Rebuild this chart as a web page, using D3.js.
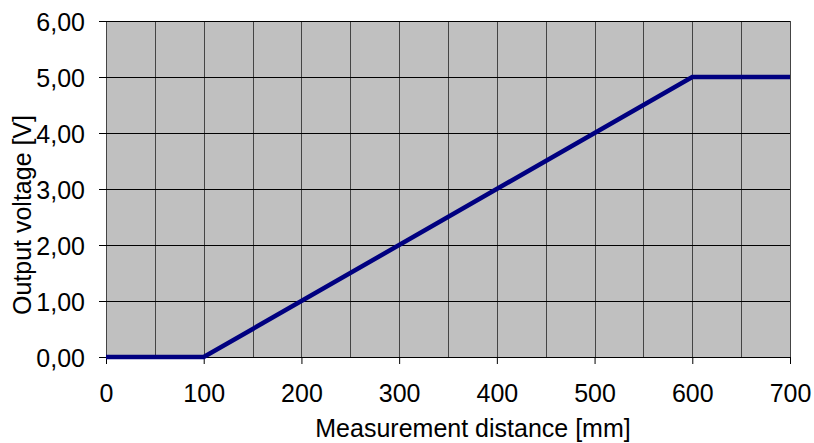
<!DOCTYPE html>
<html>
<head>
<meta charset="utf-8">
<script src="https://cdn.jsdelivr.net/npm/d3@7"></script>
<style>
  body { margin: 0; background: #fff; }
  svg text { font-family: "Liberation Sans", Arial, sans-serif; fill: #000; }
</style>
</head>
<body>
<div id="chart"></div>
<script>
// curve points
var distance = [0, 100, 600, 700];
var voltage = [0, 0, 5, 5];
var xTicks = [0, 100, 200, 300, 400, 500, 600, 700];
var xGrid = [50, 100, 150, 200, 250, 300, 350, 400, 450, 500, 550, 600, 650, 700];
var yTicks = [0, 1, 2, 3, 4, 5, 6];

var width = 814,
    height = 443;
var margin = {top: 21, right: 24, bottom: 86, left: 106};
var w = width - margin.left - margin.right,
    h = height - margin.top - margin.bottom;
var fontSize = '25px';

var x = d3.scaleLinear().domain([0, 700]).range([0, w]);
var y = d3.scaleLinear().domain([0, 6]).range([h, 0]);

var svg = d3.select('#chart').append('svg')
    .attr('width', width)
    .attr('height', height);

var g = svg.append('g')
    .attr('transform', 'translate(' + margin.left + ',' + margin.top + ')');

g.append('rect')
    .attr('width', w)
    .attr('height', h)
    .attr('fill', '#c0c0c0');

// vertical grid lines
g.selectAll('.vgrid')
    .data(xGrid)
    .enter().append('line')
    .attr('class', 'vgrid')
    .attr('x1', function(d) { return Math.round(x(d)) + 0.5; })
    .attr('x2', function(d) { return Math.round(x(d)) + 0.5; })
    .attr('y1', 0)
    .attr('y2', h)
    .attr('stroke', '#444')
    .attr('stroke-width', 1);

// y axis with horizontal grid lines
var yAxis = g.append('g')
    .call(d3.axisLeft(y)
        .tickValues(yTicks)
        .tickSize(7)
        .tickPadding(14)
        .tickFormat(function(d) { return d.toFixed(2).replace('.', ','); }));
yAxis.select('.domain').attr('stroke', '#444');
yAxis.selectAll('.tick line')
    .attr('x2', w)
    .attr('x1', -7)
    .attr('stroke', '#000');
yAxis.selectAll('text')
    .attr('font-size', fontSize)
    .attr('dy', '0.36em')
    .attr('font-family', '"Liberation Sans", Arial, sans-serif');

// x axis
var xAxis = g.append('g')
    .attr('transform', 'translate(0,' + h + ')')
    .call(d3.axisBottom(x)
        .tickValues(xTicks)
        .tickSize(7)
        .tickPadding(20)
        .tickFormat(d3.format('d')));
xAxis.select('.domain').attr('stroke', '#000').attr('d', 'M0,0.5H' + w);
xAxis.selectAll('text')
    .attr('font-size', fontSize)
    .attr('font-family', '"Liberation Sans", Arial, sans-serif');

var line = d3.line()
    .x(function(d, i) { return x(distance[i]); })
    .y(function(d) { return y(d); });

g.append('path')
    .datum(voltage)
    .attr('d', line)
    .attr('fill', 'none')
    .attr('stroke', '#000080')
    .attr('stroke-width', 4.5)
    .attr('stroke-linejoin', 'miter');

svg.append('text')
    .attr('x', 473)
    .attr('y', 437)
    .attr('text-anchor', 'middle')
    .attr('font-size', fontSize)
    .text('Measurement distance [mm]');

svg.append('text')
    .attr('transform', 'translate(31,215) rotate(-90)')
    .attr('text-anchor', 'middle')
    .attr('font-size', fontSize)
    .text('Output voltage [V]');
</script>
</body>
</html>
